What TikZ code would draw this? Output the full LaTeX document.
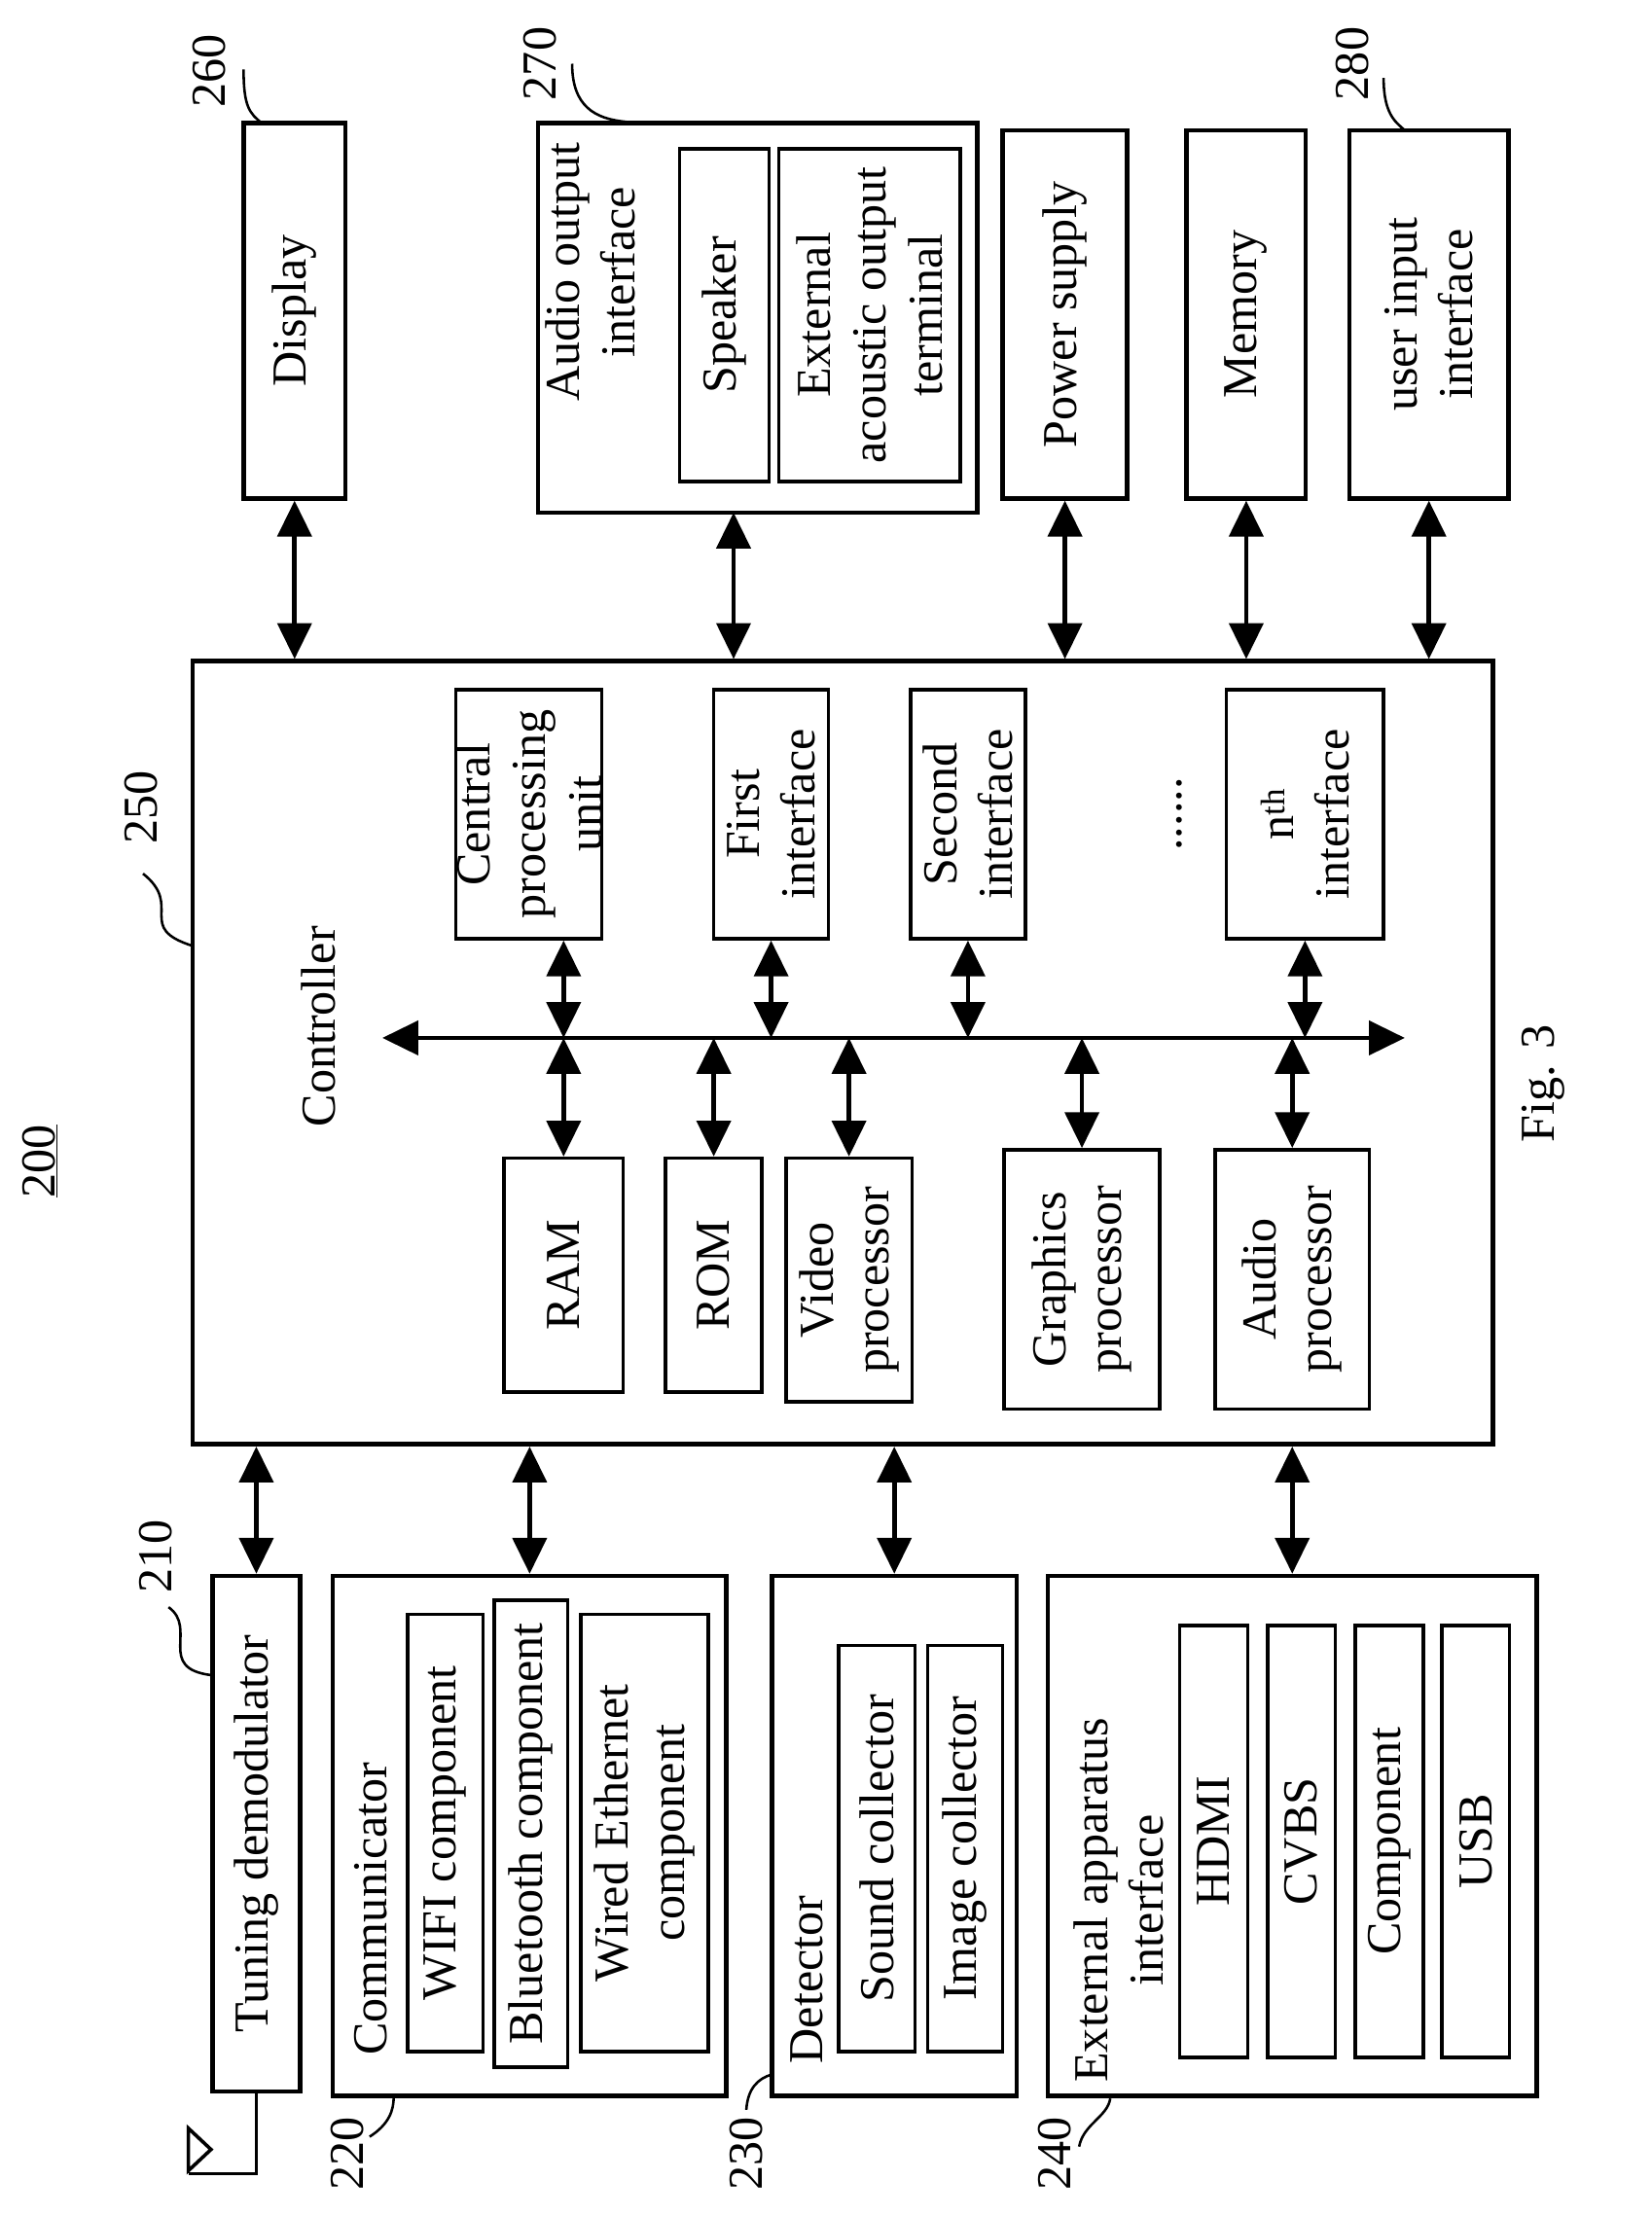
\documentclass[tikz,border=0pt]{standalone}
\usepackage{fontspec}
\setmainfont{Liberation Serif}
\usetikzlibrary{arrows.meta,fit}
\begin{document}
\begin{tikzpicture}[x=0.05cm,y=-0.05cm,
 box/.style={draw,line width=4.5pt,inner sep=0pt},
 ibox/.style={draw,line width=3.5pt,inner sep=0pt},
 txt/.style={rotate=90,align=center,font=\fontsize{49}{56}\selectfont,inner sep=0pt},
 dbl/.style={line width=4.5pt,{Triangle[width=34pt,length=36pt]}-{Triangle[width=34pt,length=36pt]}},
 lead/.style={line width=2.5pt}]
\useasboundingbox (0,0) rectangle (1166,1565);
% top row
\node[box,fit={(172,87)(244,352)}] (disp) {};
\node[txt] at (disp.center) {Display};
\node[box,fit={(380,87)(690,362)}] (aud) {};
\node[txt] (audt) at (417,192) {Audio output\\interface};
\node[ibox,fit={(480,105)(543,340)}] (spk) {};
\node[txt] at (spk.center) {Speaker};
\node[ibox,fit={(550,105)(678,340)}] (ext) {};
\node[txt] at (ext.center) {External\\acoustic output\\terminal};
\node[box,fit={(708,92)(796,352)}] (pow) {};
\node[txt] at (pow.center) {Power supply};
\node[box,fit={(838,92)(922,352)}] (mem) {};
\node[txt] at (mem.center) {Memory};
\node[box,fit={(953,92)(1065,352)}] (uii) {};
\node[txt] at (uii.center) {user input\\interface};
% controller
\node[box,fit={(136,467)(1054,1020)}] (ctrl) {};
\node[txt] at (225,725) {Controller};
\node[ibox,fit={(322,487)(425,663)}] (cpu) {};
\node[txt] at (cpu.center) {Central\\processing\\unit};
\node[ibox,fit={(504,487)(585,663)}] (fi) {};
\node[txt] at (fi.center) {First\\interface};
\node[ibox,fit={(643,487)(724,663)}] (si) {};
\node[txt] at (si.center) {Second\\interface};
\node[txt] at (833,575) {......};
\node[ibox,fit={(866,487)(977,663)}] (ni) {};
\node[txt] at (ni.center) {n\textsuperscript{th}\\interface};
\node[ibox,fit={(356,818)(440,983)}] (ram) {};
\node[txt] at (ram.center) {RAM};
\node[ibox,fit={(470,818)(538,983)}] (rom) {};
\node[txt] at (rom.center) {ROM};
\node[ibox,fit={(555,818)(644,990)}] (vp) {};
\node[txt] at (vp.center) {Video\\processor};
\node[ibox,fit={(709,812)(819,995)}] (gp) {};
\node[txt] at (gp.center) {Graphics\\processor};
\node[ibox,fit={(858,812)(967,995)}] (ap) {};
\node[txt] at (ap.center) {Audio\\processor};
\coordinate (busL) at (270,733);
\coordinate (busR) at (992,733);
\draw[dbl] (busL) -- (busR);
\draw[dbl] (cpu.south -| ram.north) -- (busL -| ram.north);
\draw[dbl] (busL -| ram.north) -- (ram.north);
\draw[dbl] (fi.south) -- (busL -| fi.south);
\draw[dbl] (si.south) -- (busL -| si.south);
\draw[dbl] (ni.south) -- (busL -| ni.south);
\draw[dbl] (busL -| rom.north) -- (rom.north);
\draw[dbl] (busL -| vp.north) -- (vp.north);
\draw[dbl] (busL -| gp.north) -- (gp.north);
\draw[dbl] (busL -| ap.north) -- (ap.north);
% top connectors
\coordinate (audc) at (518,362);
\draw[dbl] (disp.south) -- (disp.south |- ctrl.north);
\draw[dbl] (audc) -- (audc |- ctrl.north);
\draw[dbl] (pow.south) -- (pow.south |- ctrl.north);
\draw[dbl] (mem.south) -- (mem.south |- ctrl.north);
\draw[dbl] (uii.south) -- (uii.south |- ctrl.north);
% bottom row
\node[box,fit={(150,1113)(212,1477)}] (tun) {};
\node[txt] at (tun.center) {Tuning demodulator};
\node[box,fit={(235,1113)(513,1480)}] (com) {};
\node[txt] at (262,1348) {Communicator};
\node[ibox,fit={(288,1140)(341,1449)}] (wifi) {};
\node[txt] at (wifi.center) {WIFI component};
\node[ibox,fit={(349,1130)(401,1460)}] (bt) {};
\node[txt] at (bt.center) {Bluetooth component};
\node[ibox,fit={(410,1140)(500,1449)}] (eth) {};
\node[txt] at (eth.center) {Wired Ethernet\\component};
\node[box,fit={(545,1113)(718,1480)}] (det) {};
\node[txt] at (570,1398) {Detector};
\node[ibox,fit={(592,1162)(646,1449)}] (snd) {};
\node[txt] at (snd.center) {Sound collector};
\node[ibox,fit={(655,1162)(708,1449)}] (img) {};
\node[txt] at (img.center) {Image collector};
\node[box,fit={(740,1113)(1085,1480)}] (eai) {};
\node[txt] at (790,1342) {External apparatus\\interface};
\node[ibox,fit={(833,1148)(881,1453)}] (hdmi) {};
\node[txt] at (hdmi.center) {HDMI};
\node[ibox,fit={(895,1148)(943,1453)}] (cvbs) {};
\node[txt] at (cvbs.center) {CVBS};
\node[ibox,fit={(957,1148)(1005,1453)}] (cmp) {};
\node[txt] at (cmp.center) {Component};
\node[ibox,fit={(1018,1148)(1066,1453)}] (usb) {};
\node[txt] at (usb.center) {USB};
\draw[dbl] (ctrl.south -| tun.north) -- (tun.north);
\draw[dbl] (ctrl.south -| com.north) -- (com.north);
\draw[dbl] (ctrl.south -| det.north) -- (det.north);
\draw[dbl] (ctrl.south -| eai.north) -- (eai.north);
% antenna
\coordinate (ant) at (133,1535);
\draw[line width=3.5pt] (tun.south) -- (tun.south |- ant) -- (ant);
\draw[line width=3.5pt] (133,1503) -- (149,1518) -- (133,1533) -- cycle;
% labels
\node[txt] (l260) at (148,50) {260};
\draw[lead] (172,49) .. controls (172,75) and (176,80) .. (185,87);
\node[txt] (l270) at (381,45) {270};
\draw[lead] (404,45) .. controls (404,75) and (420,84) .. (442,86);
\node[txt] (l280) at (955,45) {280};
\draw[lead] (977,55) .. controls (977,80) and (985,86) .. (992,92);
\node[txt] (l250) at (100,570) {250};
\draw[lead] (101,617) .. controls (130,640) and (95,655) .. (136,668);
\node[txt] (l210) at (110,1099) {210};
\draw[lead] (119,1135) .. controls (140,1150) and (110,1178) .. (149,1183);
\node[txt] (l220) at (245,1521) {220};
\draw[lead] (261,1509) .. controls (275,1500) and (278,1490) .. (278,1481);
\node[txt] (l230) at (527,1521) {230};
\draw[lead] (527,1490) .. controls (528,1475) and (535,1468) .. (545,1465);
\node[txt] (l240) at (745,1521) {240};
\draw[lead] (762,1516) .. controls (765,1500) and (782,1495) .. (784,1482);
\node[txt] (l200) at (28,820) {\underline{200}};
\node[txt] (fig) at (1090,765) {Fig. 3};
\end{tikzpicture}
\end{document}
